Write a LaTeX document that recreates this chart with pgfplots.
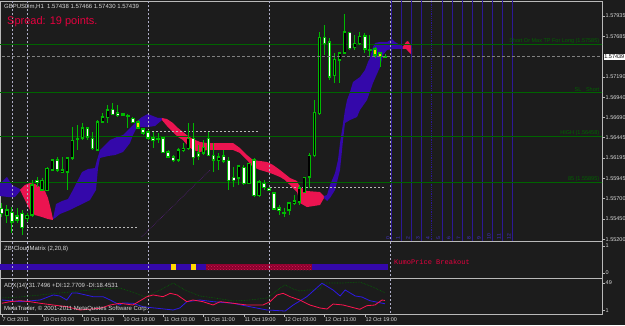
\documentclass[border=0pt]{standalone}
\usepackage{pgfplots}
\usepackage{pgfplotstable}
\pgfplotsset{compat=1.18}
\usetikzlibrary{patterns}
\usepackage{fontspec}
\setmainfont{Liberation Sans}
\newfontfamily\monofont{Liberation Mono}
\definecolor{bg}{RGB}{28,28,28}
\definecolor{frame}{RGB}{185,185,185}
\definecolor{txt}{RGB}{215,215,215}
\definecolor{cgreen}{RGB}{0,185,0}
\definecolor{cloudblue}{RGB}{52,8,170}
\definecolor{cloudred}{RGB}{235,20,80}
\definecolor{lvlgreen}{RGB}{0,100,0}
\definecolor{vblue}{RGB}{44,24,150}
\definecolor{vlab}{RGB}{70,50,210}
\definecolor{sep}{RGB}{175,175,200}
\definecolor{spread}{RGB}{228,0,62}
\definecolor{diblue}{RGB}{45,25,230}
\definecolor{dired}{RGB}{255,20,80}
\definecolor{adxgreen}{RGB}{0,110,0}
\definecolor{cmred}{RGB}{140,0,45}
\definecolor{cmredlight}{RGB}{210,30,90}
\definecolor{cmyellow}{RGB}{255,215,0}
\definecolor{trend}{RGB}{90,30,130}

\pgfplotstableread{
i O H L C
1 1.55497 1.55620 1.55399 1.55559
5 1.55461 1.55522 1.55412 1.55497
6 1.55497 1.55926 1.55473 1.55865
8 1.55804 1.55951 1.55804 1.55926
9 1.55804 1.56085 1.55804 1.56073
10 1.56049 1.56171 1.56049 1.56171
12 1.56024 1.56208 1.56012 1.56049
13 1.56024 1.56196 1.55804 1.56196
14 1.56196 1.56575 1.56171 1.56416
15 1.56428 1.56600 1.56294 1.56441
16 1.56441 1.56624 1.56416 1.56563
19 1.56294 1.56661 1.56294 1.56637
20 1.56637 1.56747 1.56624 1.56698
21 1.56698 1.56845 1.56624 1.56784
31 1.56428 1.56502 1.56379 1.56441
35 1.56171 1.56318 1.56147 1.56294
36 1.56294 1.56379 1.56269 1.56318
37 1.56318 1.56624 1.56294 1.56441
40 1.56257 1.56416 1.56232 1.56330
43 1.56171 1.56257 1.56049 1.56208
47 1.55951 1.56110 1.55865 1.56098
49 1.55889 1.56134 1.55889 1.56134
51 1.55742 1.55926 1.55718 1.55902
57 1.55559 1.55657 1.55497 1.55644
58 1.55644 1.55742 1.55620 1.55669
59 1.55657 1.55865 1.55620 1.55828
60 1.55779 1.55963 1.55779 1.55963
61 1.55963 1.56257 1.55828 1.56232
62 1.56232 1.56906 1.56208 1.56759
63 1.56747 1.57739 1.56722 1.57678
66 1.57212 1.57482 1.57114 1.57408
67 1.57396 1.57494 1.57114 1.57482
68 1.57482 1.57960 1.57482 1.57739
70 1.57555 1.57702 1.57519 1.57604
71 1.57604 1.57739 1.57580 1.57690
76 1.57438 1.57466 1.57430 1.57439
}\bull

\pgfplotstableread{
i O H L C
0 1.55583 1.55644 1.55473 1.55522
2 1.55534 1.55595 1.55277 1.55412
3 1.55485 1.55583 1.55399 1.55436
4 1.55522 1.55559 1.55252 1.55350
7 1.55926 1.55963 1.55840 1.55902
11 1.56171 1.56208 1.56024 1.56049
17 1.56563 1.56575 1.56416 1.56453
18 1.56441 1.56514 1.56294 1.56318
22 1.56796 1.56869 1.56722 1.56735
23 1.56747 1.56845 1.56698 1.56722
24 1.56735 1.56747 1.56710 1.56722
25 1.56722 1.56735 1.56563 1.56710
26 1.56686 1.56698 1.56624 1.56637
28 1.56551 1.56563 1.56477 1.56502
29 1.56514 1.56539 1.56416 1.56441
30 1.56441 1.56514 1.56318 1.56416
32 1.56441 1.56453 1.56257 1.56269
33 1.56269 1.56294 1.56208 1.56208
34 1.56208 1.56232 1.56147 1.56171
38 1.56441 1.56624 1.56110 1.56208
39 1.56257 1.56355 1.56171 1.56220
41 1.56441 1.56514 1.56232 1.56232
42 1.56232 1.56379 1.56024 1.56171
44 1.56220 1.56294 1.56134 1.56159
45 1.56171 1.56208 1.55804 1.55926
46 1.55963 1.56085 1.55840 1.55926
48 1.56085 1.56110 1.55865 1.55889
50 1.56171 1.56196 1.55718 1.55742
52 1.55889 1.55926 1.55804 1.55840
53 1.55828 1.55840 1.55791 1.55804
54 1.55767 1.55779 1.55559 1.55571
55 1.55583 1.55620 1.55497 1.55559
56 1.55534 1.55583 1.55473 1.55522
64 1.57678 1.57825 1.57457 1.57604
65 1.57617 1.57666 1.57151 1.57188
69 1.57739 1.57739 1.57519 1.57543
72 1.57690 1.57727 1.57482 1.57531
73 1.57531 1.57702 1.57433 1.57519
}\bear

\pgfplotstableread{
i O H L C
27 1.56637 1.56661 1.56551 1.56563
74 1.57531 1.57555 1.57421 1.57457
75 1.57482 1.57494 1.57310 1.57438
}\yel

\newcommand\fs{\fontsize{5.5}{6.5}\selectfont}
\newcommand\ft{\fontsize{6}{7}\selectfont}

\newcommand\candles[3]{%
\addplot[draw=none, mark=none, forget plot, error bars/.cd, y dir=both, y explicit, error mark=none,
  error bar style={draw=cgreen, line width=0.8pt}]
  table[x=i, y expr={(\thisrow{H}+\thisrow{L})/2}, y error expr={(\thisrow{H}-\thisrow{L})/2}] {#1};
\addplot[draw=none, mark=none, forget plot, error bars/.cd, y dir=both, y explicit, error mark=none,
  error bar style={draw=#2, line width=3.4pt}]
  table[x=i, y expr={(\thisrow{O}+\thisrow{C})/2}, y error expr={abs(\thisrow{C}-\thisrow{O})/2+0.00007}] {#1};
\addplot[draw=none, mark=none, forget plot, error bars/.cd, y dir=both, y explicit, error mark=none,
  error bar style={draw=#3, line width=1.8pt}]
  table[x=i, y expr={(\thisrow{O}+\thisrow{C})/2}, y error expr={max(abs(\thisrow{C}-\thisrow{O})/2-0.00007,0)}] {#1};
}

\pgfplotsset{mt/.style={scale only axis, width=602pt, xmin=-0.357, xmax=119.04,
  axis line style={draw=frame, line width=0.6pt},
  tick style={draw=frame, line width=0.5pt}, major tick length=2.5pt, tick align=outside,
  ticklabel style={font=\fs, text=txt},
  xtick=\empty, ytick pos=right, yticklabel pos=right,
  yticklabel style={anchor=west, inner sep=1pt}}}

\begin{document}
\begin{tikzpicture}
\useasboundingbox (0,0) rectangle (625pt,325pt);
\fill[bg] (0,0) rectangle (625pt,325pt);

% ---------------- main price chart
\begin{axis}[mt, at={(0pt,84pt)}, anchor=south west, height=240pt,
  ymin=1.55179, ymax=1.58119,
  ytick={1.57935,1.57685,1.57190,1.56940,1.56690,1.56445,1.56195,1.55945,1.55700,1.55450,1.55200},
  yticklabels={1.57935,1.57685,1.57190,1.56940,1.56690,1.56445,1.56195,1.55945,1.55700,1.55450,1.55200}]
% cloud
\addplot[fill=cloudblue, draw=none] coordinates {(0.04,1.55902)(1.03,1.55963)(2.02,1.55865)(3.61,1.55816)(3.81,1.55804)(2.62,1.55718)(1.23,1.55718)(-0.4,1.55730)(-0.4,1.55902)} -- cycle;
\addplot[fill=cloudred, draw=none] coordinates {(3.61,1.55804)(4.60,1.55865)(5.59,1.55889)(6.58,1.55877)(7.58,1.55840)(8.57,1.55791)(9.16,1.55706)(9.76,1.55559)(10.15,1.55448)(10.15,1.55436)(9.16,1.55448)(7.97,1.55473)(6.58,1.55497)(5.59,1.55559)(4.60,1.55681)} -- cycle;
\addplot[fill=cloudblue, draw=none] coordinates {(10.15,1.55448)(10.75,1.55632)(11.94,1.55669)(13.13,1.55693)(14.12,1.55804)(15.11,1.55926)(15.91,1.56024)(17.10,1.56061)(18.48,1.56073)(18.88,1.56171)(19.48,1.56294)(20.47,1.56355)(21.46,1.56416)(22.85,1.56453)(24.04,1.56477)(25.43,1.56563)(26.42,1.56624)(26.82,1.56649)(27.81,1.56698)(29.0,1.56735)(29.99,1.56710)(30.98,1.56686)(31.77,1.56686)(31.77,1.56661)(30.39,1.56588)(29.0,1.56575)(27.41,1.56575)(26.82,1.56575)(26.02,1.56477)(25.43,1.56379)(24.04,1.56269)(22.45,1.56232)(21.06,1.56220)(19.48,1.56196)(19.08,1.56073)(18.68,1.55804)(17.49,1.55681)(15.51,1.55620)(13.53,1.55559)(11.54,1.55510)(10.55,1.55461)} -- cycle;
\addplot[fill=cloudred, draw=none] coordinates {(31.77,1.56686)(32.76,1.56673)(33.95,1.56624)(34.95,1.56563)(35.94,1.56514)(36.93,1.56465)(37.93,1.56428)(39.31,1.56392)(40.70,1.56379)(45.86,1.56379)(47.24,1.56318)(48.63,1.56232)(49.82,1.56171)(51.21,1.56159)(52.60,1.56147)(53.79,1.56110)(55.18,1.56049)(57.16,1.55951)(58.55,1.55914)(59.14,1.55840)(60.53,1.55791)(63.11,1.55779)(63.90,1.55730)(63.90,1.55706)(63.11,1.55620)(60.53,1.55595)(59.14,1.55644)(58.55,1.55779)(57.16,1.55865)(56.17,1.55926)(55.18,1.55963)(53.79,1.55999)(52.60,1.56024)(51.21,1.56049)(49.82,1.56085)(48.63,1.56171)(47.24,1.56257)(45.86,1.56294)(40.70,1.56294)(39.31,1.56269)(37.93,1.56294)(36.93,1.56343)(35.94,1.56416)(34.95,1.56453)(33.95,1.56514)(32.76,1.56588)(31.77,1.56661)} -- cycle;
\addplot[fill=cloudblue, draw=none] coordinates {(63.90,1.55730)(64.50,1.55742)(65.09,1.55865)(65.69,1.55951)(66.09,1.56012)(66.68,1.56171)(67.08,1.56379)(67.48,1.56539)(67.68,1.56624)(68.07,1.56784)(68.47,1.56906)(69.06,1.57004)(69.66,1.57127)(71.04,1.57188)(72.04,1.57274)(72.63,1.57372)(73.03,1.57421)(73.62,1.57555)(74.02,1.57604)(75.01,1.57617)(76.40,1.57617)(77.39,1.57653)(77.98,1.57617)(78.98,1.57580)(79.57,1.57561)(79.57,1.57531)(77.59,1.57531)(76.40,1.57519)(75.61,1.57457)(75.01,1.57310)(73.62,1.57114)(72.43,1.56906)(71.04,1.56784)(70.45,1.56698)(69.06,1.56661)(68.07,1.56624)(67.68,1.56416)(67.08,1.56049)(66.09,1.55804)(65.09,1.55706)(64.50,1.55669)(63.90,1.55706)} -- cycle;
\addplot[fill=cloudred, draw=none] coordinates {(79.57,1.57561)(80.17,1.57617)(80.56,1.57629)(80.96,1.57592)(81.36,1.57543)(81.36,1.57457)(80.76,1.57494)(80.17,1.57531)(79.57,1.57531)} -- cycle;
% vertical lines on the right
\pgfplotsinvokeforeach{77.33,79.31,81.30,83.28,87.37,89.39,91.37,93.39,95.38,97.36,99.35,101.33}{
  \addplot[vblue, line width=0.8pt] coordinates {(#1,1.5510)(#1,1.5820)};}
\addplot[vblue, line width=0.8pt, densely dotted] coordinates {(85.26,1.5510)(85.26,1.5820)};
% day separators
\pgfplotsinvokeforeach{2.16,5,29,53,77}{
  \addplot[sep, line width=0.5pt, dash pattern=on 2pt off 2pt] coordinates {(#1,1.5510)(#1,1.5820)};}
% trend line
\addplot[trend, line width=0.6pt, densely dotted] coordinates {(27.75,1.55231)(41.3,1.56049)};
% level lines
\addplot[lvlgreen, line width=0.6pt] coordinates {(-1,1.57585)(120,1.57585)};
\addplot[lvlgreen, line width=0.6pt] coordinates {(-1,1.56995)(120,1.56995)};
\addplot[lvlgreen, line width=0.6pt] coordinates {(-1,1.56458)(120,1.56458)};
\addplot[lvlgreen, line width=0.6pt] coordinates {(-1,1.55895)(120,1.55895)};
% previous-day range dashes
\addplot[frame, line width=0.6pt, dash pattern=on 2pt off 2pt] coordinates {(5.0,1.55347)(27.2,1.55347)};
\addplot[frame, line width=0.6pt, dash pattern=on 2pt off 2pt] coordinates {(29.0,1.56523)(51.2,1.56523)};
\addplot[frame, line width=0.6pt, dash pattern=on 2pt off 2pt] coordinates {(53.2,1.55837)(76.2,1.55837)};
% candles
\candles{\bull}{cgreen}{black}
\candles{\bear}{cgreen}{white}
\candles{\yel}{cgreen}{cmyellow}
% bid line
\addplot[gray, line width=0.6pt, dash pattern=on 3pt off 2pt] coordinates {(-1,1.57439)(120,1.57439)};
\end{axis}

% ---------------- cloud matrix panel
\begin{axis}[mt, at={(0pt,47pt)}, anchor=south west, height=37pt,
  ymin=-0.185, ymax=1.185, ytick={0,1}, yticklabels={0,1}]
\addplot[fill=cloudblue, draw=none] coordinates {(-0.5,0.111)(33.5,0.111)(33.5,0.333)(-0.5,0.333)} -- cycle;
\addplot[fill=cmyellow, draw=none] coordinates {(33.5,0.111)(34.5,0.111)(34.5,0.333)(33.5,0.333)} -- cycle;
\addplot[fill=cloudblue, draw=none] coordinates {(34.5,0.111)(37.5,0.111)(37.5,0.333)(34.5,0.333)} -- cycle;
\addplot[fill=cmyellow, draw=none] coordinates {(37.5,0.111)(38.5,0.111)(38.5,0.333)(37.5,0.333)} -- cycle;
\addplot[fill=cloudblue, draw=none] coordinates {(38.5,0.111)(40.5,0.111)(40.5,0.333)(38.5,0.333)} -- cycle;
\addplot[fill=cmred, draw=none] coordinates {(40.5,0.111)(61.5,0.111)(61.5,0.333)(40.5,0.333)} -- cycle;
\addplot[pattern=crosshatch dots, pattern color=cmredlight, draw=none] coordinates {(40.5,0.111)(61.5,0.111)(61.5,0.333)(40.5,0.333)} -- cycle;
\addplot[fill=cloudblue, draw=none] coordinates {(61.5,0.111)(76.5,0.111)(76.5,0.333)(61.5,0.333)} -- cycle;
\pgfplotsinvokeforeach{2.16,5,29,53,77}{
  \addplot[sep, line width=0.5pt, dash pattern=on 2pt off 2pt] coordinates {(#1,-1)(#1,2)};}
\end{axis}

% ---------------- ADX panel
\begin{axis}[mt, at={(0pt,11pt)}, anchor=south west, height=36pt,
  ymin=-5.1, ymax=57.7, ytick={1,49}, yticklabels={1,49},
  xtick={0,8,16,24,32,40,48,56,64,72}, xtick pos=lower,
  xticklabels={7 Oct 2011,10 Oct 03:00,10 Oct 11:00,10 Oct 19:00,11 Oct 03:00,11 Oct 11:00,11 Oct 19:00,12 Oct 03:00,12 Oct 11:00,12 Oct 19:00},
  xticklabel style={anchor=north west, inner sep=0.5pt, yshift=-0.5pt}]
\pgfplotsinvokeforeach{2.16,5,29,53,77}{
  \addplot[sep, line width=0.5pt, dash pattern=on 2pt off 2pt] coordinates {(#1,-10)(#1,60)};}
\addplot[adxgreen, line width=0.6pt, densely dotted] coordinates {(0,22.8)(3.6,24.6)(7.6,28.1)(11.5,31.6)(15.5,35.0)(19.5,38.5)(23.4,40.3)(26.4,31.6)(28.4,24.6)(31.4,36.8)(34,49)(36.3,36.8)(39.3,26.3)(42.3,22.8)(45.9,17.6)(49.2,19.3)(52.6,22.8)(55.2,40.3)(56.2,45.5)(57.8,38.5)(59.1,35.0)(60.5,36.8)(61.7,36.8)(63.1,38.5)(63.7,49)(67.7,49)(71,50.7)(73.6,42)(76,31.75)};
\addplot[diblue, line width=0.8pt] coordinates {(0,19.3)(3.6,16.4)(7.6,19.3)(10.2,28.1)(11.5,26.3)(12.9,19.3)(13.9,31.6)(14.9,31.6)(18.1,25.1)(20.1,25.1)(21.5,19.3)(23.4,10.6)(24,14.1)(26,13.6)(28,7.6)(30.8,4.9)(34,1.9)(35.3,5.4)(36.7,16.4)(39.3,19.3)(41.9,16.4)(45.9,13.6)(49.2,7.6)(52.6,1.9)(56.2,0.1)(57.8,10.6)(60.5,25.1)(63.1,45.5)(63.5,48.5)(65.7,36.8)(67.1,26.3)(68.1,36.8)(70.1,26.3)(71.4,24.6)(73,18.1)(76,12.77)};
\addplot[dired, line width=0.8pt] coordinates {(0,13.6)(1.6,16.4)(3.6,18.1)(5.6,16.4)(7.6,13.6)(10.2,10.6)(12.9,7.6)(15.5,1.9)(19.5,4.9)(21.5,10.6)(23.4,13.6)(26,10.6)(28.8,25.1)(30,28.1)(32,25.1)(33.4,31.0)(34.8,28.1)(36.7,16.4)(37.9,19.3)(39.9,16.4)(41.9,10.6)(43.3,16.4)(45.9,13.6)(48.6,10.6)(51.8,10.6)(53.2,16.4)(54.6,28.1)(55.8,31.0)(57.2,25.1)(59.1,19.3)(61.1,10.6)(63.1,5.4)(64.5,3.6)(65.7,12.3)(67.7,10.6)(71,3.1)(72.4,9.4)(74,10.6)(75.4,19.3)(76,18.45)};
\end{axis}

% ---------------- texts
\node[anchor=west, font=\ft, text=txt, inner sep=0pt] at (4pt,318.5pt) {GBPUSDm,H1\ \ 1.57438 1.57466 1.57430 1.57439};
\node[anchor=west, font=\fontsize{11}{13}\selectfont, text=spread, inner sep=0pt] at (7pt,303pt) {Spread: 19 points.};
\node[anchor=south east, font=\fs, text=lvlgreen, inner sep=0.6pt] at (600pt,280.4pt) {Short Or Max TP For Long (1.57585)};
\node[anchor=south east, font=\fs, text=lvlgreen, inner sep=0.6pt] at (600pt,233pt) {SL\ \ \ Short};
\node[anchor=south east, font=\fs, text=lvlgreen, inner sep=0.6pt] at (600pt,188.4pt) {HIGH (1.56458)};
\node[anchor=south east, font=\fs, text=lvlgreen, inner sep=0.6pt] at (600pt,142.5pt) {85 (1.55895)};
\node[anchor=west, fill=white, text=black, font=\fs, inner sep=0.7pt] at (603.5pt,268pt) {1.57439};
% labels of the vertical lines
\foreach \k/\xx in {0/388,1/398,2/408,3/418,4/428,5/438.5,6/448.7,7/458.7,8/468.9,9/478.9,10/488.9,11/498.9,12/508.9}
  \node[rotate=90, anchor=west, font=\fontsize{5}{6}\selectfont, text=vlab, inner sep=0.3pt] at (\xx pt,85.5pt) {\k};
\node[anchor=west, font=\ft, text=txt, inner sep=0pt] at (4pt,76pt) {ZB-CloudMatrix (2,20,8)};
\node[anchor=west, font=\monofont\fontsize{7}{8}\selectfont, text=spread, inner sep=0pt] at (394pt,63pt) {KumoPrice Breakout};
\node[anchor=west, font=\ft, text=txt, inner sep=0pt] at (4pt,39pt) {ADX(14) 31.7496 +DI:12.7709 -DI:18.4531};
\node[anchor=west, font=\ft, text=txt, inner sep=0pt] at (4pt,16pt) {MetaTrader, © 2001-2011 MetaQuotes Software Corp.};
\end{tikzpicture}
\end{document}
